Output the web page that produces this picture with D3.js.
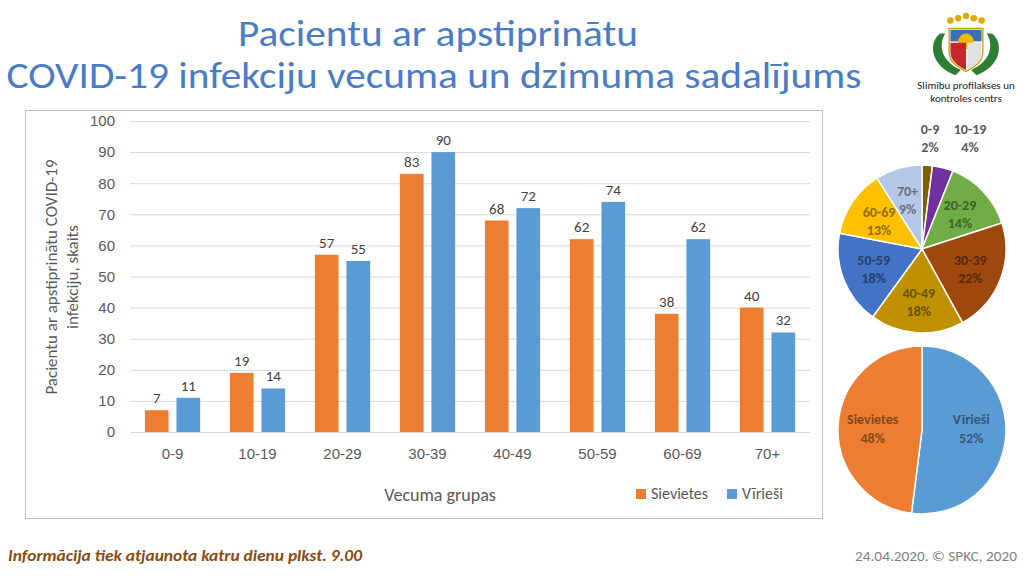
<!DOCTYPE html>
<html>
<head>
<meta charset="utf-8">
<script src="https://cdn.jsdelivr.net/npm/d3@7"></script>
<style>
  body { margin: 0; background: #fff; }
  svg { font-family: Carlito, Calibri, Lato, "Open Sans", sans-serif; }
</style>
</head>
<body>
<svg id="chart" width="1024" height="576"></svg>
<script>
// data
const ageGroups = ['0-9', '10-19', '20-29', '30-39', '40-49', '50-59', '60-69', '70+'];
const women = [7, 19, 57, 83, 68, 62, 38, 40];
const men = [11, 14, 55, 90, 72, 74, 62, 32];
const seriesNames = ['Sievietes', 'Vīrieši'];
const yTicks = [0, 10, 20, 30, 40, 50, 60, 70, 80, 90, 100];
const agePct = [2, 4, 14, 22, 18, 18, 13, 9];
const ageColors = ['#7f6000', '#7030a0', '#70ad47', '#9e480e', '#bf9000', '#4472c4', '#ffc000', '#b4c7e7'];
const genderNames = ['Vīrieši', 'Sievietes'];
const genderPct = [52, 48];
const genderColors = ['#5b9bd5', '#ed7d31'];

const svg = d3.select('#chart');
const grey = '#595959';

// title
const title = svg.append('g').attr('fill', '#4a7cc6').attr('text-anchor', 'middle');
title.append('text').attr('x', 438).attr('y', 46).attr('font-size', 36)
  .attr('textLength', 400).attr('lengthAdjust', 'spacingAndGlyphs')
  .text('Pacientu ar apstiprinātu');
title.append('text').attr('x', 434).attr('y', 88).attr('font-size', 36)
  .attr('textLength', 855).attr('lengthAdjust', 'spacingAndGlyphs')
  .text('COVID-19 infekciju vecuma un dzimuma sadalījums');

// chart frame
svg.append('rect')
  .attr('x', 25.5).attr('y', 110.5).attr('width', 797).attr('height', 408)
  .attr('fill', '#fff').attr('stroke', '#bfbfbf');

const y = d3.scaleLinear().domain([0, 100]).range([432, 121]);
const x0 = d3.scaleBand().domain(ageGroups).range([130, 810])
  .paddingInner(0.35).paddingOuter(0.175);
const x1 = d3.scaleBand().domain(seriesNames).range([0, x0.bandwidth()]).paddingInner(0.25);
const color = d3.scaleOrdinal().domain(seriesNames).range(['#ed7d31', '#5b9bd5']);

// grid + y labels
const yAxis = d3.axisLeft(y).tickValues(yTicks).tickSize(-680).tickPadding(15);
const gy = svg.append('g').attr('transform', 'translate(130,0)').call(yAxis);
gy.select('.domain').remove();
gy.selectAll('.tick line').attr('stroke', '#d9d9d9');
gy.selectAll('.tick text').attr('fill', grey).attr('font-size', 15).attr('font-family', null);

// x labels
const xAxis = d3.axisBottom(x0).tickSize(0).tickPadding(16);
const gx = svg.append('g').attr('transform', 'translate(0,432)').call(xAxis);
gx.select('.domain').remove();
gx.selectAll('.tick text').attr('fill', grey).attr('font-size', 15).attr('font-family', null);

// bars
const rows = ageGroups.map((g, i) => ({ group: g, values: [
  { key: 'Sievietes', value: women[i] },
  { key: 'Vīrieši', value: men[i] }
] }));

const groups = svg.append('g').selectAll('g').data(rows).join('g')
  .attr('transform', d => `translate(${x0(d.group)},0)`);

groups.selectAll('rect').data(d => d.values).join('rect')
  .attr('x', d => x1(d.key))
  .attr('y', d => y(d.value))
  .attr('width', x1.bandwidth())
  .attr('height', d => y(0) - y(d.value))
  .attr('fill', d => color(d.key));

groups.selectAll('text').data(d => d.values).join('text')
  .attr('x', d => x1(d.key) + x1.bandwidth() / 2)
  .attr('y', d => y(d.value) - 7)
  .attr('text-anchor', 'middle')
  .attr('font-size', 15)
  .attr('fill', '#404040')
  .text(d => d.value);

// axis titles
svg.append('text').attr('x', 440).attr('y', 501).attr('text-anchor', 'middle')
  .attr('font-size', 18).attr('fill', grey).text('Vecuma grupas');

const yt = svg.append('text').attr('transform', 'translate(57,277) rotate(-90)')
  .attr('text-anchor', 'middle').attr('font-size', 17).attr('fill', grey);
yt.append('tspan').attr('x', 0).attr('y', 0).text('Pacientu ar apstiprinātu COVID-19');
yt.append('tspan').attr('x', 0).attr('y', 21).text('infekciju, skaits');

// legend
const legend = svg.append('g').selectAll('g').data(seriesNames).join('g')
  .attr('transform', (d, i) => `translate(${[636, 727][i]},489)`);
legend.append('rect').attr('width', 10).attr('height', 10).attr('fill', d => color(d));
legend.append('text').attr('x', 15).attr('y', 10).attr('font-size', 16)
  .attr('fill', grey).text(d => d);

// age pie
const pie = d3.pie().sort(null).value(d => d.value);
const ageData = pie(ageGroups.map((g, i) => ({ name: g, value: agePct[i], color: ageColors[i] })));
const arc = d3.arc().innerRadius(0).outerRadius(84);
const labelArc = d3.arc().innerRadius(52).outerRadius(52);

const p1 = svg.append('g').attr('transform', 'translate(922,249)');
p1.selectAll('path').data(ageData).join('path')
  .attr('d', arc).attr('fill', d => d.data.color)
  .attr('stroke', '#fff').attr('stroke-width', 1.5);

const outside = { '0-9': [8, -112], '10-19': [48, -112] };
const l1 = p1.selectAll('text').data(ageData).join('text')
  .attr('text-anchor', 'middle').attr('font-size', 14).attr('font-weight', 'bold')
  .attr('fill', d => outside[d.data.name] ? grey : d3.color(d.data.color).darker(1.6))
  .attr('transform', d => {
    const p = outside[d.data.name] || labelArc.centroid(d);
    return `translate(${p[0]},${p[1]})`;
  });
l1.append('tspan').attr('x', 0).attr('y', -3).text(d => d.data.name);
l1.append('tspan').attr('x', 0).attr('y', 15).text(d => d.data.value + '%');

// gender pie
const gData = pie(genderNames.map((g, i) => ({ name: g, value: genderPct[i], color: genderColors[i] })));
const p2 = svg.append('g').attr('transform', 'translate(922,430)');
p2.selectAll('path').data(gData).join('path')
  .attr('d', arc).attr('fill', d => d.data.color)
  .attr('stroke', '#fff').attr('stroke-width', 1.5);
const l2 = p2.selectAll('text').data(gData).join('text')
  .attr('text-anchor', 'middle').attr('font-size', 14).attr('font-weight', 'bold')
  .attr('fill', d => d3.color(d.data.color).darker(1.6))
  .attr('transform', d => {
    const c = labelArc.centroid(d);
    return `translate(${c[0] * 0.95},${-6})`;
  });
l2.append('tspan').attr('x', 0).attr('y', 0).text(d => d.data.name);
l2.append('tspan').attr('x', 0).attr('y', 19).text(d => d.data.value + '%');

// logo (simplified coat of arms)
const logo = svg.append('g').attr('transform', 'translate(966,44) scale(1.3)');
logo.append('path').attr('d', 'M-20,-8 C-30,0 -26,18 -8,24 L-4,20 C-18,14 -22,2 -16,-8 Z').attr('fill', '#2e7d32');
logo.append('path').attr('d', 'M20,-8 C30,0 26,18 8,24 L4,20 C18,14 22,2 16,-8 Z').attr('fill', '#2e7d32');
logo.append('path').attr('d', 'M-13,-12 L13,-12 L13,6 C13,14 6,18 0,21 C-6,18 -13,14 -13,6 Z').attr('fill', '#fff').attr('stroke', '#c8a000');
logo.append('path').attr('d', 'M-12,-11 L12,-11 L12,-2 L-12,-2 Z').attr('fill', '#3d6fb5');
logo.append('circle').attr('cx', 0).attr('cy', -2).attr('r', 6).attr('fill', '#f2b700');
logo.append('path').attr('d', 'M-12,-1 L0,-1 L0,20 C-6,17 -12,13 -12,6 Z').attr('fill', '#c62828');
logo.append('path').attr('d', 'M1,-1 L12,-1 L12,6 C12,13 6,17 1,20 Z').attr('fill', '#e0e0e0');
logo.selectAll('circle.star').data([-12, -6, 0, 6, 12]).join('circle')
  .attr('class', 'star').attr('cx', d => d).attr('cy', d => -18 - (12 - Math.abs(d)) * 0.3)
  .attr('r', 2.5).attr('fill', '#e0a800');
const logoText = svg.append('g').attr('text-anchor', 'middle').attr('font-size', 11).attr('fill', '#222');
logoText.append('text').attr('x', 966).attr('y', 89).text('Slimību profilakses un');
logoText.append('text').attr('x', 966).attr('y', 102).text('kontroles centrs');

// footer
svg.append('text').attr('x', 8).attr('y', 561).attr('font-size', 16)
  .attr('textLength', 354).attr('lengthAdjust', 'spacingAndGlyphs')
  .attr('font-style', 'italic').attr('font-weight', 'bold').attr('fill', '#8a4b0f')
  .text('Informācija tiek atjaunota katru dienu plkst. 9.00');
svg.append('text').attr('x', 1017).attr('y', 561).attr('text-anchor', 'end')
  .attr('font-size', 15).attr('textLength', 162).attr('lengthAdjust', 'spacingAndGlyphs')
  .attr('fill', '#7f7f7f').text('24.04.2020. © SPKC, 2020');
</script>
</body>
</html>
